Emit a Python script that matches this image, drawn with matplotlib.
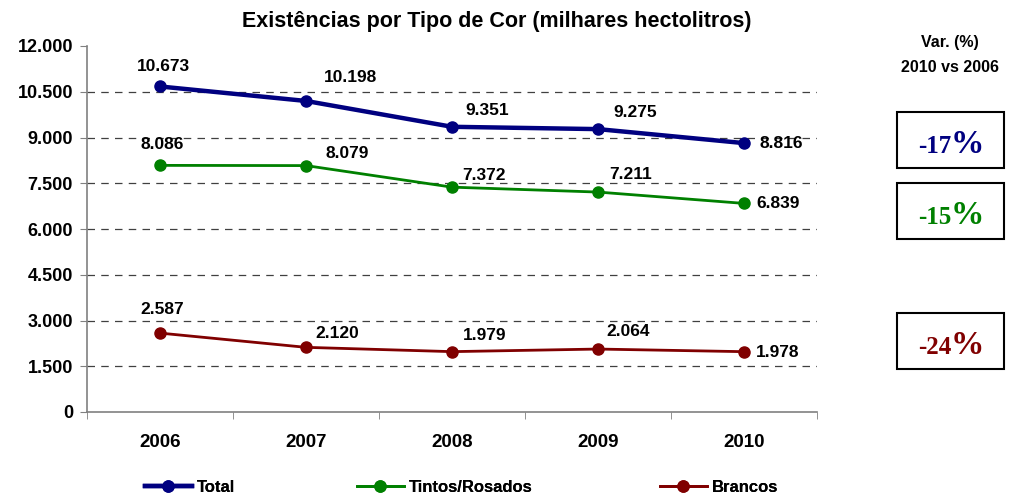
import matplotlib.pyplot as plt
from matplotlib.patches import Rectangle
from matplotlib.lines import Line2D

# ----------------------------------------------------------------
# Data
years = ['2006', '2007', '2008', '2009', '2010']
total = [10673, 10198, 9351, 9275, 8816]
tintos = [8086, 8079, 7372, 7211, 6839]
brancos = [2587, 2120, 1979, 2064, 1978]
var_labels = ['-17', '-15', '-24']

NAVY = '#000080'
GREEN = '#008000'
RED = '#800000'

plt.rcParams['font.family'] = ['Liberation Sans', 'DejaVu Sans']
plt.rcParams['font.weight'] = 'bold'

def fmt(v):
    return '{:,}'.format(v).replace(',', '.')

# label offsets in pixels (dx, dy) per point
off_total = [(3, 20), (44, 23), (35, 16), (37, 17), (37, 0)]
off_tintos = [(2, 21), (41, 12), (32, 12), (33, 18), (34, 0)]
off_brancos = [(2, 24), (31, 14), (33, 16), (30, 18), (34, -1)]

# ----------------------------------------------------------------
fig = plt.figure(figsize=(10.13, 4.97), dpi=100)
ax = fig.add_axes([87/1013, 1-412/497, 730/1013, 366/497])

x = [i + 0.5 for i in range(len(years))]
series = [(total, NAVY, 3.2, 'Total', off_total),
          (tintos, GREEN, 2.0, 'Tintos/Rosados', off_tintos),
          (brancos, RED, 2.0, 'Brancos', off_brancos)]

for vals, col, lw, name, offs in series:
    ax.plot(x, vals, color=col, lw=lw, marker='o', markersize=8, label=name)
    for xi, v, (dx, dy) in zip(x, vals, offs):
        ax.annotate(fmt(v), (xi, v), xytext=(dx*0.72, dy*0.72), textcoords='offset points',
                    ha='center', va='center', fontsize=12.5, fontweight='bold')

ax.set_xlim(0, 5)
ax.set_ylim(0, 12000)
yt = list(range(0, 12001, 1500))
ax.set_yticks(yt)
ax.set_yticklabels([fmt(v) for v in yt], fontsize=13, fontweight='bold')
ax.set_xticks(x)
ax.set_xticklabels(years, fontsize=13.5, fontweight='bold')
ax.set_xticks(range(0, 6), minor=True)
ax.tick_params(axis='x', which='major', length=0, pad=16)
ax.tick_params(axis='x', which='minor', length=5, color='#808080')
ax.tick_params(axis='y', length=5, color='#808080', pad=5)
for y in yt[1:-1]:
    ax.axhline(y, color='#404040', lw=0.9, dashes=(6, 5), zorder=0)
for s in ['top', 'right']:
    ax.spines[s].set_visible(False)
for s in ['left', 'bottom']:
    ax.spines[s].set_color('#808080')
    ax.spines[s].set_linewidth(1.2)

fig.text(497/1013, 1-21/497, 'Existências por Tipo de Cor (milhares hectolitros)',
         ha='center', va='center', fontsize=15.5, fontweight='bold')

# legend, one entry per block like the original
leg_x = [145, 357, 660]
for (vals, col, lw, name, offs), lx in zip(series, leg_x):
    h = Line2D([], [], color=col, lw=lw, marker='o', markersize=8)
    lg = fig.legend([h], [name], loc='center left', bbox_to_anchor=(lx/1013, 1-487/497),
                    frameon=False, fontsize=12, handlelength=2.8, handletextpad=0.3,
                    borderpad=0, borderaxespad=0)
    fig.add_artist(lg)

# ----------------------------------------------------------------
# Var boxes
fig.text(950/1013, 1-42/497, 'Var. (%)', ha='center', va='center', fontsize=11.5, fontweight='bold')
fig.text(950/1013, 1-67/497, '2010 vs 2006', ha='center', va='center', fontsize=11.5, fontweight='bold')
box_tops = [112, 183, 313]
for lab, col, top in zip(var_labels, [NAVY, GREEN, RED], box_tops):
    fig.add_artist(Rectangle((897/1013, 1-(top+56)/497), 107/1013, 56/497,
                             transform=fig.transFigure, fill=False, ec='black', lw=1.5))
    yc = 1-(top+41)/497
    fig.text(951/1013, yc, lab, ha='right', va='baseline', color=col, fontsize=18,
             fontweight='bold', family='Liberation Serif')
    fig.text(951/1013, yc, '%', ha='left', va='baseline', color=col, fontsize=24,
             fontweight='bold', family='Liberation Serif')

fig.savefig('out.png', dpi=100)
